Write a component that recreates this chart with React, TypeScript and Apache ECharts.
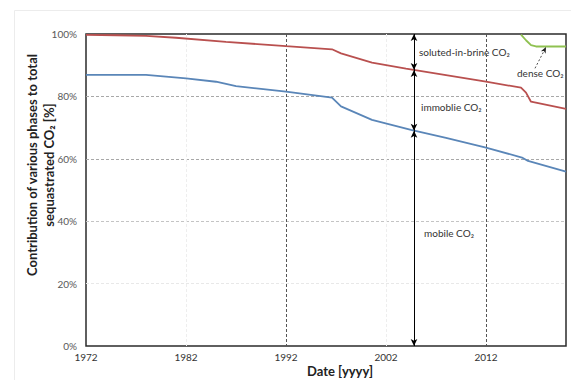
import React, { useEffect, useRef } from "react";
import * as echarts from "echarts";

const xTickStart = 1972;
const xMax = 2020;
const yTicks = [0, 20, 40, 60, 80, 100];

const redYears = [1972, 1975, 1978, 1981, 1986, 1992, 1996.6, 1997.5, 2000.6, 2004, 2008, 2012, 2015.5, 2016, 2016.5, 2020];
const redVals = [99.7, 99.6, 99.4, 98.8, 97.5, 96.1, 95.1, 93.8, 90.8, 88.9, 86.8, 84.7, 82.8, 81.2, 78.3, 76.0];

const blueYears = [1972, 1978, 1982, 1985, 1987, 1989.5, 1992, 1996.6, 1997.5, 2000.6, 2004.5, 2008, 2012, 2015.6, 2016.2, 2020];
const blueVals = [86.9, 86.9, 85.8, 84.7, 83.3, 82.4, 81.5, 79.6, 76.8, 72.5, 69.3, 66.7, 63.6, 60.4, 59.3, 55.9];

const greenYears = [2015.5, 2016, 2016.5, 2017, 2020];
const greenVals = [99.8, 98.0, 96.4, 96.0, 96.0];

const arrowYear = 2004.8;
const arrowStops = [100, 88.5, 69.0, 0];

const denseArrowFrom = [2016.9, 89.0];
const denseArrowTo = [2018.0, 95.8];

const zip = (xs: number[], ys: number[]) => xs.map((x, i) => [x, ys[i]]);

const FONT = "Lato";

export default function App() {
  const ref = useRef<HTMLDivElement>(null);
  useEffect(() => {
    if (!ref.current) return;
    const chart = echarts.init(ref.current, null, { renderer: "svg" });
    const arrowSegments = arrowStops.slice(0, -1).map((v, i) => [
      { coord: [arrowYear, v] },
      { coord: [arrowYear, arrowStops[i + 1]] },
    ]);
    chart.setOption({
      animation: false,
      backgroundColor: "#fff",
      textStyle: { fontFamily: FONT },
      grid: {
        left: 86,
        right: 5,
        top: 34,
        bottom: 34,
        show: true,
        borderColor: "#2b2b2b",
        borderWidth: 1.5,
        backgroundColor: "transparent",
      },
      xAxis: {
        type: "value",
        min: xTickStart,
        max: xMax,
        interval: 10,
        axisLine: { show: false },
        axisTick: { show: false },
        axisLabel: {
          color: "#333",
          fontSize: 10,
          fontFamily: FONT,
          margin: 6,
          showMaxLabel: false,
          formatter: (v: number) => String(v),
        },
        splitLine: {
          show: true,
          lineStyle: {
            type: [3, 2],
            width: 1,
            color: ["rgba(0,0,0,0)", "#eeeeee", "#555555", "#eeeeee", "#555555", "rgba(0,0,0,0)"],
          },
        },
      },
      yAxis: {
        type: "value",
        min: yTicks[0],
        max: yTicks[yTicks.length - 1],
        interval: 20,
        axisLine: { show: false },
        axisTick: { show: false },
        axisLabel: {
          color: "#595959",
          fontSize: 10,
          fontFamily: FONT,
          margin: 9,
          formatter: "{value}%",
        },
        splitLine: {
          show: true,
          lineStyle: {
            type: [3, 2],
            width: 1,
            color: ["rgba(0,0,0,0)", "#e8e8e8", "#c4c4c4", "#a8a8a8", "#a8a8a8", "rgba(0,0,0,0)"],
          },
        },
      },
      series: [
        {
          type: "line",
          data: zip(redYears, redVals),
          showSymbol: false,
          symbol: "none",
          lineStyle: { color: "#b9504f", width: 1.8 },
          z: 3,
        },
        {
          type: "line",
          data: zip(blueYears, blueVals),
          showSymbol: false,
          symbol: "none",
          lineStyle: { color: "#5a86b8", width: 1.8 },
          z: 3,
          markLine: {
            silent: true,
            symbol: ["arrow", "arrow"],
            symbolSize: [5, 7],
            label: { show: false },
            lineStyle: { color: "#000", width: 1, type: "solid" },
            data: arrowSegments,
          },
        },
        {
          type: "line",
          data: zip(greenYears, greenVals),
          showSymbol: false,
          symbol: "none",
          lineStyle: { color: "#8fc151", width: 1.8 },
          z: 3,
          markLine: {
            silent: true,
            symbol: ["none", "arrow"],
            symbolSize: [4, 6],
            label: { show: false },
            lineStyle: { color: "#222", width: 0.8, type: [2, 2] },
            data: [[{ coord: denseArrowFrom }, { coord: denseArrowTo }]],
          },
        },
      ],
      graphic: [
        {
          type: "rect",
          shape: { x: 14.5, y: 10.5, width: 600, height: 400 },
          style: { fill: "none", stroke: "#ececec", lineWidth: 1 },
          silent: true,
          z: -1,
        },
        {
          type: "text",
          x: 40,
          y: 165,
          rotation: Math.PI / 2,
          style: {
            text: "Contribution of various phases to total\nsequastrated CO₂ [%]",
            fontFamily: FONT,
            fontWeight: "bold",
            fontSize: 13,
            lineHeight: 17,
            fill: "#222",
            align: "center",
            verticalAlign: "middle",
          },
        },
        {
          type: "text",
          x: 340,
          y: 371,
          style: {
            text: "Date [yyyy]",
            fontFamily: FONT,
            fontWeight: "bold",
            fontSize: 13,
            fill: "#222",
            align: "center",
            verticalAlign: "middle",
          },
        },
        {
          type: "text",
          x: 419,
          y: 52,
          style: { text: "soluted-in-brine CO₂", fontFamily: FONT, fontSize: 10, fill: "#333", align: "left", verticalAlign: "middle" },
        },
        {
          type: "text",
          x: 421,
          y: 107,
          style: { text: "immoblie CO₂", fontFamily: FONT, fontSize: 10, fill: "#333", align: "left", verticalAlign: "middle" },
        },
        {
          type: "text",
          x: 424,
          y: 233,
          style: { text: "mobile CO₂", fontFamily: FONT, fontSize: 10, fill: "#333", align: "left", verticalAlign: "middle" },
        },
        {
          type: "text",
          x: 517,
          y: 73,
          style: { text: "dense CO₂", fontFamily: FONT, fontSize: 10, fill: "#333", align: "left", verticalAlign: "middle" },
        },
      ],
    });
    return () => chart.dispose();
  }, []);
  return (
    <div
      ref={ref}
      style={{ position: "absolute", left: 0, top: 0, width: 571, height: 380 }}
    />
  );
}
